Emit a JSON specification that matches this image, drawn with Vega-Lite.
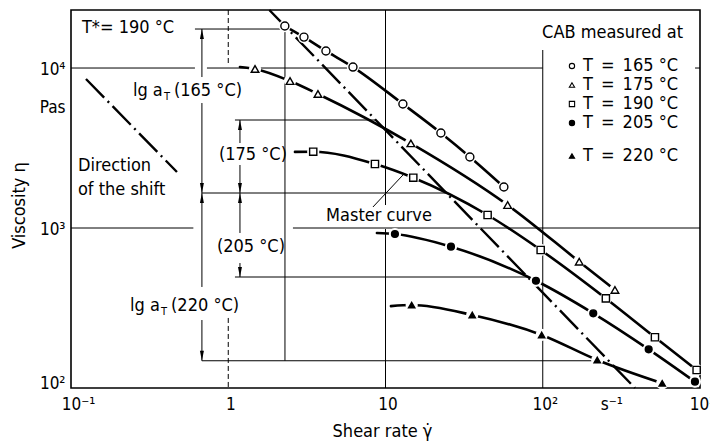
{
 "$schema": "https://vega.github.io/schema/vega-lite/v6.json",
 "width": 629,
 "height": 378,
 "autosize": {"type": "none"},
 "padding": {"left": 71, "top": 10, "right": 10, "bottom": 56},
 "background": "white",
 "config": {
  "font": "DejaVu Sans Condensed, DejaVu Sans",
  "view": {"stroke": "black", "strokeWidth": 1.6},
  "axis": {"labelColor": "black", "titleColor": "black", "labelFontSize": 17, "titleFontSize": 18, "titleFontWeight": "normal", "ticks": false, "domain": false, "grid": false, "labelOverlap": false, "labelFlush": false}
 },
 "datasets": {
  "obs": [
   {"T": "165", "x": 2.29, "y": 18300, "m": 1},
   {"T": "165", "x": 3.03, "y": 15600, "m": 1},
   {"T": "165", "x": 4.18, "y": 12780, "m": 1},
   {"T": "165", "x": 6.21, "y": 10140, "m": 1},
   {"T": "165", "x": 12.9, "y": 5960, "m": 1},
   {"T": "165", "x": 22.5, "y": 3926, "m": 1},
   {"T": "165", "x": 34.4, "y": 2780, "m": 1},
   {"T": "165", "x": 56.6, "y": 1804, "m": 1},
   {"T": "175", "x": 1.187, "y": 10150, "m": 0},
   {"T": "175", "x": 1.48, "y": 9860, "m": 1},
   {"T": "175", "x": 2.47, "y": 8290, "m": 1},
   {"T": "175", "x": 3.72, "y": 6880, "m": 1},
   {"T": "175", "x": 14.5, "y": 3381, "m": 1},
   {"T": "175", "x": 59.8, "y": 1392, "m": 1},
   {"T": "175", "x": 170.6, "y": 616, "m": 1},
   {"T": "175", "x": 287.8, "y": 410, "m": 1},
   {"T": "190", "x": 2.656, "y": 2990, "m": 0},
   {"T": "190", "x": 3.47, "y": 2999, "m": 1},
   {"T": "190", "x": 8.57, "y": 2512, "m": 1},
   {"T": "190", "x": 15.02, "y": 2063, "m": 1},
   {"T": "190", "x": 44.6, "y": 1206, "m": 1},
   {"T": "190", "x": 97.0, "y": 729, "m": 1},
   {"T": "190", "x": 252, "y": 363, "m": 1},
   {"T": "190", "x": 517, "y": 207.5, "m": 1},
   {"T": "190", "x": 952, "y": 129.6, "m": 1},
   {"T": "205", "x": 8.82, "y": 931, "m": 0},
   {"T": "205", "x": 11.48, "y": 917, "m": 1},
   {"T": "205", "x": 26.08, "y": 764, "m": 1},
   {"T": "205", "x": 90.5, "y": 468, "m": 1},
   {"T": "205", "x": 209.5, "y": 293, "m": 1},
   {"T": "205", "x": 471.6, "y": 174.5, "m": 1},
   {"T": "205", "x": 928.8, "y": 109.5, "m": 1},
   {"T": "220", "x": 10.83, "y": 325, "m": 0},
   {"T": "220", "x": 14.67, "y": 330, "m": 1},
   {"T": "220", "x": 35.6, "y": 286, "m": 1},
   {"T": "220", "x": 98.4, "y": 214.5, "m": 1},
   {"T": "220", "x": 222, "y": 149.6, "m": 1},
   {"T": "220", "x": 575, "y": 107, "m": 1}
  ],
  "thin": [
   {"x": 0.1, "y": 10000, "x2": 0.614, "y2": 10000},
   {"x": 0.732, "y": 10000, "x2": 100, "y2": 10000},
   {"x": 930, "y": 10000, "x2": 1000, "y2": 10000},
   {"x": 0.1, "y": 1000, "x2": 0.6, "y2": 1000},
   {"x": 2.579, "y": 1000, "x2": 1000, "y2": 1000},
   {"x": 10, "y": 23049, "x2": 10, "y2": 1392},
   {"x": 10, "y": 986, "x2": 10, "y2": 100},
   {"x": 100, "y": 12960, "x2": 100, "y2": 100},
   {"x": 2.294, "y": 18302, "x2": 2.294, "y2": 148},
   {"x": 0.614, "y": 17530, "x2": 2.195, "y2": 17530},
   {"x": 1.103, "y": 4732, "x2": 8.7, "y2": 4732},
   {"x": 0.68, "y": 1655, "x2": 24.2, "y2": 1655},
   {"x": 1.103, "y": 494, "x2": 80.5, "y2": 494},
   {"x": 0.68, "y": 148, "x2": 215, "y2": 148},
   {"x": 0.68, "y": 17530, "x2": 0.68, "y2": 8785},
   {"x": 0.68, "y": 6043, "x2": 0.68, "y2": 1655},
   {"x": 0.68, "y": 1655, "x2": 0.68, "y2": 428},
   {"x": 0.68, "y": 266, "x2": 0.68, "y2": 148},
   {"x": 1.187, "y": 4732, "x2": 1.187, "y2": 3398},
   {"x": 1.187, "y": 2476, "x2": 1.187, "y2": 1655},
   {"x": 1.187, "y": 1655, "x2": 1.187, "y2": 931},
   {"x": 1.187, "y": 604, "x2": 1.187, "y2": 494},
   {"x": 8.32, "y": 1353, "x2": 12.91, "y2": 2144}
  ],
  "dashed": [
   {"x": 1, "y": 23049, "x2": 1, "y2": 10292},
   {"x": 1, "y": 274, "x2": 1, "y2": 100}
  ],
  "dashdot": [
   {"x": 1.825, "y": 23049, "x2": 386, "y2": 100},
   {"x": 0.1245, "y": 8535, "x2": 0.4719, "y2": 2239}
  ],
  "arrows": [
   {"x": 0.68, "y": 17530, "dir": "up"},
   {"x": 0.68, "y": 1655, "dir": "up"},
   {"x": 1.187, "y": 4732, "dir": "up"},
   {"x": 1.187, "y": 1655, "dir": "up"},
   {"x": 0.68, "y": 1655, "dir": "down"},
   {"x": 0.68, "y": 148, "dir": "down"},
   {"x": 1.187, "y": 1655, "dir": "down"},
   {"x": 1.187, "y": 494, "dir": "down"}
  ],
  "leg": [
   {"T": "165", "x": 153.4, "tx": 180.2, "y": 10292, "label": "T\u2002=\u2002165 \u00b0C"},
   {"T": "175", "x": 153.4, "tx": 180.2, "y": 7830, "label": "T\u2002=\u2002175 \u00b0C"},
   {"T": "190", "x": 153.4, "tx": 180.2, "y": 5957, "label": "T\u2002=\u2002190 \u00b0C"},
   {"T": "205", "x": 153.4, "tx": 180.2, "y": 4532, "label": "T\u2002=\u2002205 \u00b0C"},
   {"T": "220", "x": 153.4, "tx": 180.2, "y": 2818, "label": "T\u2002=\u2002220 \u00b0C"}
  ],
  "notesLeft": [
   {"x": 0.1174, "y": 17783, "t": "T*= 190 \u00b0C"},
   {"x": 0.1107, "y": 2441, "t": "Direction"},
   {"x": 0.1107, "y": 1729, "t": "of the shift"},
   {"x": 99, "y": 16552, "t": "CAB measured at"}
  ],
  "notesCenter": [
   {"x": 1.436, "y": 2858, "t": "(175 \u00b0C)"},
   {"x": 1.394, "y": 760, "t": "(205 \u00b0C)"},
   {"x": 9.086, "y": 1189, "t": "Master curve"}
  ],
  "lg": [
   {"x": 0.2476, "y": 7180, "t": "(165 \u00b0C)"},
   {"x": 0.2374, "y": 325.5, "t": "(220 \u00b0C)"}
  ]
 },
 "encoding": {
  "x": {"field": "x", "type": "quantitative",
   "scale": {"type": "log", "domain": [0.1, 1000], "nice": false},
   "axis": {"values": [0.1, 1, 10, 100, 265, 1000],
    "labelExpr": "datum.value < 0.5 ? '10\u207b\u00b9' : datum.value < 5 ? '1' : datum.value < 50 ? '10' : datum.value < 150 ? '10\u00b2' : datum.value < 500 ? 's\u207b\u00b9' : '10\u00b3'",
    "labelPadding": 8,
    "labelOffset": {"condition": {"test": "datum.value < 0.5", "value": 7}, "value": 2},
    "title": "Shear rate  \u03b3\u0307", "titleX": 311, "titleY": 43, "titleBaseline": "middle"}},
  "y": {"field": "y", "type": "quantitative",
   "scale": {"type": "log", "domain": [100, 23049], "nice": false},
   "axis": {"values": [100, 1000, 5788, 10000],
    "labelExpr": "datum.value < 500 ? '10\u00b2' : datum.value < 3000 ? '10\u00b3' : datum.value < 8000 ? 'Pas' : '10\u2074'",
    "labelPadding": 6,
    "labelOffset": {"condition": {"test": "datum.value < 500", "value": -5}, "value": 1},
    "title": "Viscosity \u03b7", "titleX": -52, "titleY": 195, "titleBaseline": "middle", "titleAngle": 270}}
 },
 "layer": [
  {"data": {"name": "thin"}, "mark": {"type": "rule", "stroke": "black", "strokeWidth": 1},
   "encoding": {"x2": {"field": "x2"}, "y2": {"field": "y2"}}},
  {"data": {"name": "dashed"}, "mark": {"type": "rule", "stroke": "black", "strokeWidth": 1, "strokeDash": [5, 3]},
   "encoding": {"x2": {"field": "x2"}, "y2": {"field": "y2"}}},
  {"data": {"name": "arrows"}, "transform": [{"filter": "datum.dir == 'up'"}],
   "mark": {"type": "point", "shape": "M0,-1L0.4,1L-0.4,1Z", "size": 100, "filled": true, "fill": "black", "strokeWidth": 0, "opacity": 1, "yOffset": 5}},
  {"data": {"name": "arrows"}, "transform": [{"filter": "datum.dir == 'down'"}],
   "mark": {"type": "point", "shape": "M0,1L0.4,-1L-0.4,-1Z", "size": 100, "filled": true, "fill": "black", "strokeWidth": 0, "opacity": 1, "yOffset": -5}},
  {"data": {"name": "dashdot"}, "mark": {"type": "rule", "stroke": "black", "strokeWidth": 2.4, "strokeDash": [26, 5, 2, 5]},
   "encoding": {"x2": {"field": "x2"}, "y2": {"field": "y2"}}},
  {"data": {"name": "obs"}, "mark": {"type": "line", "color": "black", "strokeWidth": 2.6, "interpolate": "monotone", "strokeCap": "round"},
   "encoding": {"detail": {"field": "T"}}},
  {"data": {"name": "obs"}, "transform": [{"filter": "datum.m == 1"}],
   "mark": {"type": "point", "shape": "circle", "filled": true, "fill": "white", "strokeWidth": 0, "size": 150, "opacity": 1}},
  {"data": {"name": "obs"}, "transform": [{"filter": "datum.m == 1"}],
   "mark": {"type": "point", "filled": true, "stroke": "black", "strokeWidth": 1.4, "opacity": 1},
   "encoding": {
    "shape": {"field": "T", "scale": {"domain": ["165", "175", "190", "205", "220"], "range": ["circle", "triangle-up", "square", "circle", "triangle-up"]}, "legend": null},
    "fill": {"field": "T", "scale": {"domain": ["165", "175", "190", "205", "220"], "range": ["white", "white", "white", "black", "black"]}, "legend": null},
    "size": {"field": "T", "scale": {"domain": ["165", "175", "190", "205", "220"], "range": [64, 40, 49, 36, 49]}, "legend": null}}},
  {"data": {"name": "leg"}, "mark": {"type": "point", "filled": true, "stroke": "black", "strokeWidth": 1.1, "size": 28, "opacity": 1},
   "encoding": {"shape": {"field": "T", "legend": null}, "fill": {"field": "T", "legend": null}}},
  {"data": {"name": "leg"}, "mark": {"type": "text", "align": "left", "baseline": "middle", "fontSize": 18, "color": "black"},
   "encoding": {"x": {"field": "tx", "type": "quantitative"}, "text": {"field": "label"}}},
  {"data": {"name": "notesLeft"}, "mark": {"type": "text", "align": "left", "baseline": "middle", "fontSize": 18, "color": "black"},
   "encoding": {"text": {"field": "t"}}},
  {"data": {"name": "notesCenter"}, "mark": {"type": "text", "align": "center", "baseline": "middle", "fontSize": 18, "color": "black"},
   "encoding": {"text": {"field": "t"}}},
  {"data": {"name": "lg"}, "mark": {"type": "text", "align": "left", "baseline": "middle", "fontSize": 18, "color": "black", "text": "lg a"}},
  {"data": {"name": "lg"}, "mark": {"type": "text", "align": "left", "baseline": "middle", "fontSize": 11, "color": "black", "text": "T", "dx": 31, "dy": 6}},
  {"data": {"name": "lg"}, "mark": {"type": "text", "align": "left", "baseline": "middle", "fontSize": 18, "color": "black", "dx": 41},
   "encoding": {"text": {"field": "t"}}}
 ]
}
